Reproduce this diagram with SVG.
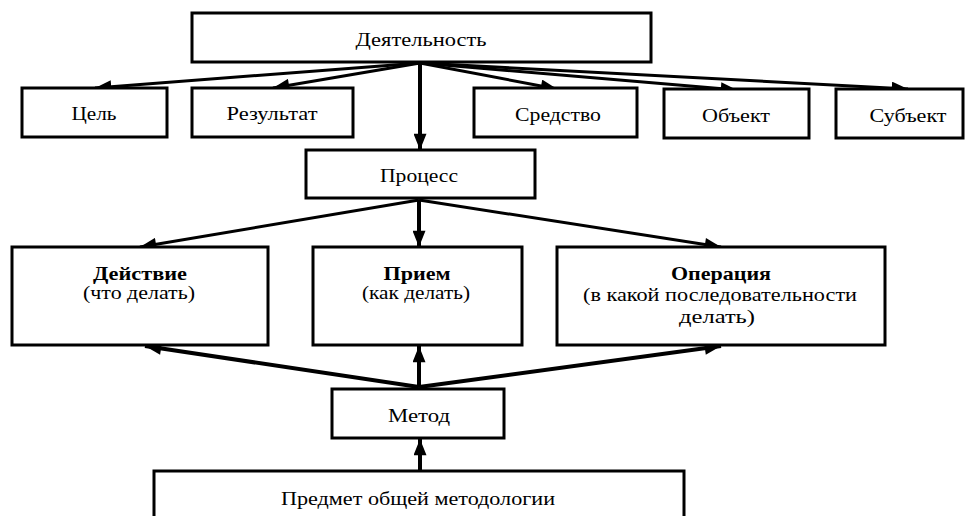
<svg xmlns="http://www.w3.org/2000/svg" width="968" height="516" viewBox="0 0 968 516">
<defs>
<style>
.box{fill:#fff;stroke:#000;stroke-width:3}
text{font-family:'Liberation Serif','DejaVu Serif',serif;font-size:19px;fill:#000;text-anchor:middle}
.b{font-weight:bold}
.c{stroke:#000;stroke-width:3;fill:none}
.ct{stroke:#000;stroke-width:4;fill:none}
</style>
<marker id="ah" viewBox="0 0 10 8" refX="10" refY="4" markerWidth="17" markerHeight="13" markerUnits="userSpaceOnUse" orient="auto">
<path d="M0,0 L10,4 L0,8 z" fill="#000"/>
</marker>
</defs>
<rect width="968" height="516" fill="#fff"/>
<g id="connectors">
<line class="c" x1="420" y1="63" x2="95" y2="88" marker-end="url(#ah)"/>
<line class="c" x1="420" y1="63" x2="273" y2="88" marker-end="url(#ah)"/>
<line class="ct" x1="420" y1="63" x2="420" y2="150" marker-end="url(#ah)"/>
<line class="c" x1="420" y1="63" x2="557" y2="89" marker-end="url(#ah)"/>
<line class="c" x1="420" y1="63" x2="737" y2="90" marker-end="url(#ah)"/>
<line class="c" x1="420" y1="63" x2="908" y2="89" marker-end="url(#ah)"/>
<line class="c" x1="419" y1="200" x2="140" y2="247" marker-end="url(#ah)"/>
<line class="ct" x1="419" y1="200" x2="419" y2="247" marker-end="url(#ah)"/>
<line class="c" x1="419" y1="200" x2="721" y2="247" marker-end="url(#ah)"/>
<line class="ct" x1="419" y1="387" x2="145" y2="346" marker-end="url(#ah)"/>
<line class="ct" x1="419" y1="387" x2="419" y2="346" marker-end="url(#ah)"/>
<line class="ct" x1="419" y1="387" x2="721" y2="346" marker-end="url(#ah)"/>
<line class="ct" x1="420" y1="471" x2="420" y2="439" marker-end="url(#ah)"/>
</g>
<g id="n-activity"><rect class="box" x="192" y="13" width="459" height="49"/><text x="421" y="46" textLength="131" lengthAdjust="spacingAndGlyphs">Деятельность</text></g>
<g id="n-goal"><rect class="box" x="22" y="88" width="145" height="49"/><text x="94" y="120" textLength="45" lengthAdjust="spacingAndGlyphs">Цель</text></g>
<g id="n-result"><rect class="box" x="192" y="88" width="161" height="49"/><text x="272" y="120" textLength="91" lengthAdjust="spacingAndGlyphs">Результат</text></g>
<g id="n-means"><rect class="box" x="474" y="88" width="163" height="49"/><text x="558" y="121" textLength="86" lengthAdjust="spacingAndGlyphs">Средство</text></g>
<g id="n-object"><rect class="box" x="664" y="89" width="145" height="49"/><text x="736" y="122" textLength="68" lengthAdjust="spacingAndGlyphs">Объект</text></g>
<g id="n-subject"><rect class="box" x="836" y="89" width="127" height="49"/><text x="908" y="122" textLength="77" lengthAdjust="spacingAndGlyphs">Субъект</text></g>
<g id="n-process"><rect class="box" x="306" y="150" width="229" height="48"/><text x="419" y="182" textLength="78" lengthAdjust="spacingAndGlyphs">Процесс</text></g>
<g id="n-action"><rect class="box" x="12" y="247" width="256" height="98"/><text class="b" x="140" y="280" textLength="94" lengthAdjust="spacingAndGlyphs">Действие</text><text x="139" y="299" textLength="112" lengthAdjust="spacingAndGlyphs">(что делать)</text></g>
<g id="n-technique"><rect class="box" x="313" y="247" width="209" height="98"/><text class="b" x="417" y="280" textLength="67" lengthAdjust="spacingAndGlyphs">Прием</text><text x="416" y="299" textLength="108" lengthAdjust="spacingAndGlyphs">(как делать)</text></g>
<g id="n-operation"><rect class="box" x="557" y="247" width="328" height="98"/><text class="b" x="721" y="280" textLength="100" lengthAdjust="spacingAndGlyphs">Операция</text><text x="720" y="301" textLength="274" lengthAdjust="spacingAndGlyphs">(в какой последовательности</text><text x="717" y="323" textLength="76" lengthAdjust="spacingAndGlyphs">делать)</text></g>
<g id="n-method"><rect class="box" x="332" y="389" width="172" height="49"/><text x="419" y="422" textLength="62" lengthAdjust="spacingAndGlyphs">Метод</text></g>
<g id="n-subject-meth"><rect class="box" x="154" y="471" width="530" height="60"/><text x="418" y="505" textLength="274" lengthAdjust="spacingAndGlyphs">Предмет общей методологии</text></g>
</svg>
